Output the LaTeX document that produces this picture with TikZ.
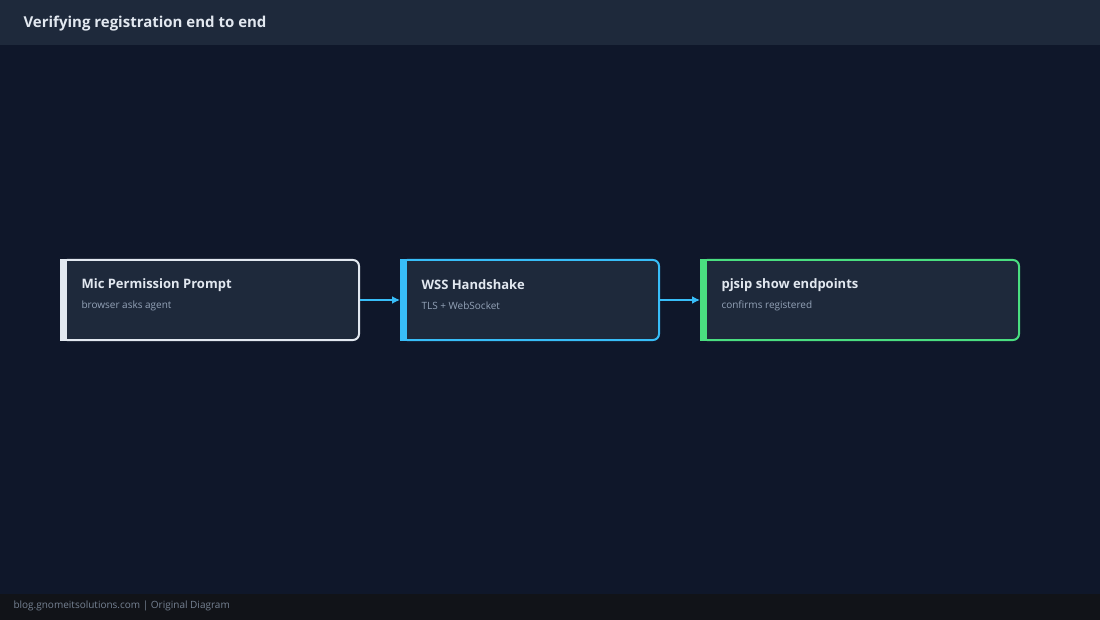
\documentclass[tikz,border=0pt]{standalone}
\usepackage{fontspec}
\setmainfont{Open Sans}
\definecolor{bg}{HTML}{0F172A}
\definecolor{hdr}{HTML}{1E293B}
\definecolor{card}{HTML}{1E293B}
\definecolor{foot}{HTML}{111318}
\definecolor{cwhite}{HTML}{E2E8F0}
\definecolor{cblue}{HTML}{38BDF8}
\definecolor{cgreen}{HTML}{4ADE80}
\definecolor{sub}{HTML}{94A3B8}
\tikzset{
 card/.style={draw=#1,fill=card,line width=2pt,rounded corners=6pt,minimum height=80pt,inner sep=0pt},
 ttl/.style={anchor=west,text=cwhite,font=\bfseries\fontsize{13}{15}\selectfont},
 subt/.style={anchor=west,text=sub,font=\fontsize{10}{12}\selectfont},
 conn/.style={draw=cblue,line width=2pt,-{Latex[length=8pt,width=8pt]}}
}
\usetikzlibrary{arrows.meta}
\begin{document}
\begin{tikzpicture}[x=1pt,y=-1pt]
\fill[bg] (0,0) rectangle (1100,620);
\useasboundingbox (0,0) rectangle (1100,620);
\fill[hdr] (0,0) rectangle (1100,45);
\node[anchor=west,text=cwhite,font=\bfseries\fontsize{15}{18}\selectfont] (title) at (20,24) {Verifying registration end to end};
\fill[foot] (0,594) rectangle (1100,620);
\node[anchor=west,text=sub!80!black,font=\fontsize{10}{12}\selectfont] (footer) at (10,606) {blog.gnomeitsolutions.com | Original Diagram};
\foreach \n/\xa/\xb/\c/\t/\s in {a/61/359/cwhite/Mic Permission Prompt/browser asks agent,
  b/401/659/cblue/WSS Handshake/TLS + WebSocket,
  c/701/1019/cgreen/pjsip show endpoints/confirms registered}{
  \node[card=\c,minimum width=\xb-\xa] (\n) at ({(\xa+\xb)/2},300) {};
  \fill[\c] (\xa-1,259) rectangle (\xa+6,341);
  \node[ttl] (\n t) at (\xa+17,285) {\t};
  \node[subt] (\n s) at (\xa+17,306) {\s};
}
\draw[conn] (a.east) -- (b.west);
\draw[conn] (b.east) -- (c.west);
\end{tikzpicture}
\end{document}
